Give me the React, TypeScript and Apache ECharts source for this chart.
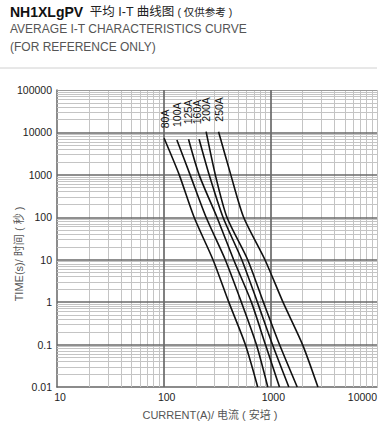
import React, { useEffect, useRef } from 'react';
import * as echarts from 'echarts';

// ---- data ----
const curveNames = ['80A', '100A', '125A', '160A', '200A', '250A'];

const current80 = [101, 140, 193, 290, 408, 583, 761];
const time80 = [7280, 1000, 100, 10, 1, 0.1, 0.01];

const current100 = [133, 177, 250, 378, 535, 740, 946];
const time100 = [6640, 1000, 100, 10, 1, 0.1, 0.01];

const current125 = [171, 215, 316, 453, 664, 899, 1218];
const time125 = [6900, 1000, 100, 10, 1, 0.1, 0.01];

const current160 = [215, 267, 360, 540, 756, 1047, 1490];
const time160 = [6900, 1000, 100, 10, 1, 0.1, 0.01];

const current200 = [250, 305, 392, 613, 861, 1219, 1786];
const time200 = [10400, 1000, 100, 10, 1, 0.1, 0.01];

const current250 = [327, 426, 562, 890, 1314, 2004, 2793];
const time250 = [10400, 1000, 100, 10, 1, 0.1, 0.01];

const xMajor = [100, 1000];
const yMajor = [0.1, 1, 10, 100, 1000, 10000];
const minorMultipliers = [2, 3, 4, 5, 6, 7, 8, 9];
const xDecades = [10, 100, 1000];
const yDecades = [0.01, 0.1, 1, 10, 100, 1000, 10000];

const FONT = "'Liberation Sans', Arial, 'Noto Sans CJK SC', sans-serif";
// gap (px) between each curve's top end and its rotated label
const LABEL_GAPS = [10, 13, 15, 15, 10, 10];
const LABEL_DX = [1, 0, -1, -2.5, -0.5, 0];

export default function App() {
  const ref = useRef<HTMLDivElement>(null);

  useEffect(() => {
    document.body.style.margin = '0';
    const chart = echarts.init(ref.current!, null, { renderer: 'svg' });

    const curves = [
      { name: curveNames[0], x: current80, y: time80 },
      { name: curveNames[1], x: current100, y: time100 },
      { name: curveNames[2], x: current125, y: time125 },
      { name: curveNames[3], x: current160, y: time160 },
      { name: curveNames[4], x: current200, y: time200 },
      { name: curveNames[5], x: current250, y: time250 },
    ];

    const minorX: number[] = [];
    xDecades.forEach((d) => minorMultipliers.forEach((m) => minorX.push(+(m * d).toPrecision(3))));
    const minorY: number[] = [];
    yDecades.forEach((d) => minorMultipliers.forEach((m) => minorY.push(+(m * d).toPrecision(3))));

    const dummy = [[10, 0.01]];

    const gridLayer = (z: number, color: string, width: number, data: any[]) => ({
      type: 'line',
      data: dummy,
      symbol: 'none',
      lineStyle: { opacity: 0 },
      silent: true,
      z,
      markLine: {
        z,
        silent: true,
        symbol: 'none',
        label: { show: false },
        animation: false,
        emphasis: { disabled: true },
        lineStyle: { color, width, type: 'solid' },
        data,
      },
    });

    const option: any = {
      animation: false,
      backgroundColor: '#fff',
      grid: { left: 57, right: 5, top: 90, bottom: 41, containLabel: false },
      xAxis: {
        type: 'log',
        logBase: 10,
        min: 10,
        max: 10000,
        splitLine: { show: false },
        axisTick: { show: false },
        axisLine: { show: true, lineStyle: { color: '#666', width: 1.5 } },
        axisLabel: {
          color: '#222',
          fontSize: 10.5,
          fontFamily: FONT,
          margin: 5,
          padding: [0, 0, 0, 6],
          alignMaxLabel: 'right',
          formatter: (v: number) => String(v),
        },
      },
      yAxis: {
        type: 'log',
        logBase: 10,
        min: 0.01,
        max: 100000,
        splitLine: { show: false },
        axisTick: { show: false },
        axisLine: { show: true, lineStyle: { color: '#666', width: 1.5 } },
        axisLabel: {
          color: '#222',
          fontSize: 10.5,
          fontFamily: FONT,
          margin: 5,
          formatter: (v: number) => String(v),
        },
      },
      series: [
        gridLayer(1, '#c4c4c4', 1, [
          ...minorX.map((v) => ({ xAxis: v })),
          ...minorY.map((v) => ({ yAxis: v })),
          { xAxis: 10000 },
        ]),
        gridLayer(2, '#9a9a9a', 1.2, [{ yAxis: 100000 }]),
        gridLayer(3, '#6a6a6a', 1.7, [
          ...xMajor.map((v) => ({ xAxis: v })),
          ...yMajor.map((v) => ({ yAxis: v })),
        ]),
        ...curves.map((c) => ({
          name: c.name,
          type: 'line',
          data: c.x.map((xv, i) => [xv, c.y[i]]),
          symbol: 'none',
          smooth: 0.25,
          z: 20,
          silent: true,
          lineStyle: { color: '#111', width: 1.6, type: 'solid' },
        })),
      ],
    };

    chart.setOption(option);

    const labelGraphics = curves.map((c, i) => {
      const p = chart.convertToPixel({ gridIndex: 0 } as any, [c.x[0], c.y[0]]) as number[];
      return {
        type: 'text',
        x: p[0] + LABEL_DX[i],
        y: p[1] - LABEL_GAPS[i],
        rotation: Math.PI / 2,
        style: {
          text: c.name,
          align: 'left',
          verticalAlign: 'middle',
          fill: '#111',
          font: `10.5px ${FONT}`,
        },
        z: 30,
      };
    });

    chart.setOption({
      graphic: [
        {
          type: 'text',
          x: 10,
          y: 12,
          style: {
            text: '{a|NH1XLgPV}  {b|平均 I-T 曲线图}{c| ( 仅供参考 )}',
            verticalAlign: 'middle',
            rich: {
              a: { fontSize: 14, fontWeight: 'bold', fontFamily: FONT, fill: '#111' },
              b: { fontSize: 12.5, fontFamily: FONT, fill: '#222' },
              c: { fontSize: 10.5, fontFamily: FONT, fill: '#222' },
            },
          },
        },
        {
          type: 'text',
          x: 10,
          y: 29,
          style: {
            text: 'AVERAGE I-T CHARACTERISTICS CURVE',
            verticalAlign: 'middle',
            fill: '#555',
            font: `12px ${FONT}`,
          },
        },
        {
          type: 'text',
          x: 10,
          y: 47,
          style: {
            text: '(FOR REFERENCE ONLY)',
            verticalAlign: 'middle',
            fill: '#555',
            font: `12px ${FONT}`,
          },
        },
        {
          type: 'line',
          shape: { x1: 0, y1: 68, x2: 377, y2: 68 },
          style: { stroke: '#d0d0d0', lineWidth: 1 },
        },
        {
          type: 'text',
          x: 19,
          y: 254,
          rotation: Math.PI / 2,
          style: {
            text: 'TIME(s)/ 时间 ( 秒 )',
            align: 'center',
            verticalAlign: 'middle',
            fill: '#555',
            font: `11px ${FONT}`,
          },
        },
        {
          type: 'text',
          x: 210,
          y: 415,
          style: {
            text: 'CURRENT(A)/ 电流 ( 安培 )',
            align: 'center',
            verticalAlign: 'middle',
            fill: '#555',
            font: `11px ${FONT}`,
          },
        },
        ...labelGraphics,
      ],
    });

    return () => chart.dispose();
  }, []);

  return <div ref={ref} style={{ width: 382, height: 428 }} />;
}
